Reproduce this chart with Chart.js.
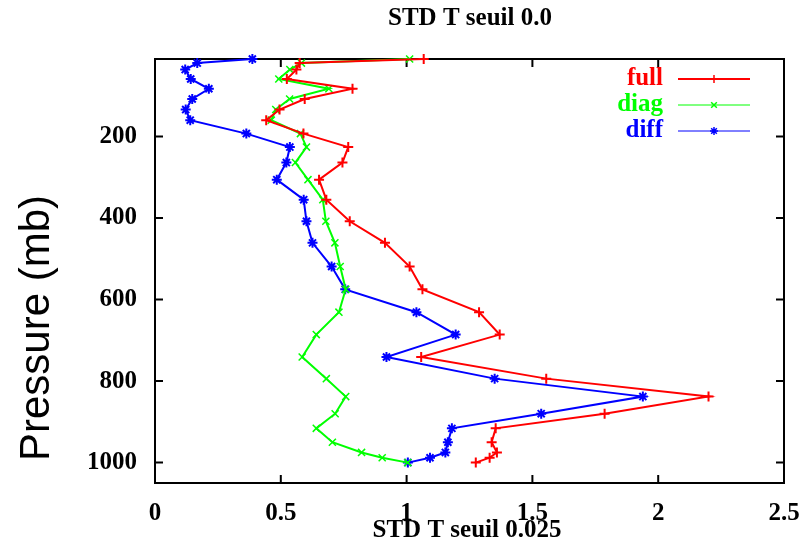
<!DOCTYPE html>
<html>
<head>
<meta charset="utf-8">
<script src="https://cdn.jsdelivr.net/npm/chart.js@4/dist/chart.umd.min.js"></script>
<style>
    html, body { margin: 0; padding: 0; background: #fff; }
    #wrap { width: 803px; height: 547px; }
</style>
</head>
<body>
<div id="wrap"><canvas id="stdChart"></canvas></div>
<script>
// pressure levels (mb), shared by all three profiles
const levels = [10, 20, 36, 59, 83, 108, 134, 160, 193, 226, 264, 306, 355, 408, 461,
                519, 575, 631, 686, 741, 794, 838, 880, 916, 950, 975, 988, 1000];

const fullStd = [1.068, 0.575, 0.562, 0.524, 0.785, 0.595, 0.495, 0.442, 0.59, 0.768,
                 0.745, 0.652, 0.681, 0.774, 0.914, 1.012, 1.063, 1.288, 1.370, 1.058,
                 1.555, 2.200, 1.787, 1.354, 1.338, 1.359, 1.330, 1.275];
const diagStd = [1.012, 0.582, 0.536, 0.492, 0.691, 0.535, 0.480, 0.462, 0.578, 0.602,
                 0.558, 0.608, 0.667, 0.679, 0.715, 0.736, 0.758, 0.731, 0.641, 0.585,
                 0.681, 0.758, 0.716, 0.641, 0.705, 0.821, 0.903, 1.005];
const diffStd = [0.387, 0.168, 0.120, 0.142, 0.214, 0.148, 0.122, 0.140, 0.363, 0.536,
                 0.522, 0.484, 0.591, 0.602, 0.626, 0.702, 0.756, 1.039, 1.195, 0.920,
                 1.350, 1.939, 1.535, 1.180, 1.164, 1.154, 1.093, 1.005];

const seriesNames = ['full', 'diag', 'diff'];
const yTicks = [200, 400, 600, 800, 1000];
const xTicks = [0, 0.5, 1, 1.5, 2, 2.5];

const serif = '"Liberation Serif", "Times New Roman", serif';

function toPoints(vals) {
    return vals.map((v, i) => ({ x: v, y: levels[i] }));
}

const colors = ['#ff0000', '#00ff00', '#0000ff'];
const styles = ['cross', 'crossRot', 'star'];

const datasets = [fullStd, diagStd, diffStd].map((vals, i) => ({
    label: seriesNames[i],
    data: toPoints(vals),
    showLine: true,
    borderColor: colors[i],
    backgroundColor: colors[i],
    borderWidth: 2,
    pointStyle: styles[i],
    pointRadius: 5,
    pointBorderWidth: i === 1 ? 1.5 : 2,
    pointBorderColor: colors[i],
    tension: 0,
    clip: false
}));

// frame, mirrored inward ticks, titles and the gnuplot style key
const decor = {
    id: 'decor',
    beforeDatasetsDraw(chart) {
        const { ctx, chartArea: a, scales: { x, y } } = chart;
        ctx.save();
        ctx.strokeStyle = '#000';
        ctx.lineWidth = 2;
        ctx.strokeRect(a.left, a.top, a.right - a.left, a.bottom - a.top);
        ctx.beginPath();
        xTicks.forEach(v => {
            const px = x.getPixelForValue(v);
            ctx.moveTo(px, a.bottom); ctx.lineTo(px, a.bottom - 8);
            ctx.moveTo(px, a.top); ctx.lineTo(px, a.top + 8);
        });
        yTicks.forEach(v => {
            const py = y.getPixelForValue(v);
            ctx.moveTo(a.left, py); ctx.lineTo(a.left + 8, py);
            ctx.moveTo(a.right, py); ctx.lineTo(a.right - 8, py);
        });
        ctx.stroke();
        ctx.restore();
    },
    afterDraw(chart) {
        const { ctx } = chart;
        ctx.save();
        ctx.fillStyle = '#000';
        ctx.textAlign = 'center';
        ctx.textBaseline = 'middle';
        ctx.font = 'bold 25px ' + serif;
        ctx.fillText('STD T seuil 0.0', 470, 19);
        ctx.fillText('STD T seuil 0.025', 467, 531);

        ctx.save();
        ctx.translate(37, 328);
        ctx.rotate(-Math.PI / 2);
        ctx.font = '42px "Liberation Sans", Arial, sans-serif';
        ctx.fillText('Pressure (mb)', 0, 0);
        ctx.restore();

        // key
        const keyY = [79, 105, 131];
        seriesNames.forEach((name, i) => {
            ctx.fillStyle = colors[i];
            ctx.textAlign = 'right';
            ctx.font = 'bold 25px ' + serif;
            ctx.fillText(name, 663, keyY[i]);
            ctx.strokeStyle = colors[i];
            ctx.lineWidth = i === 0 ? 2 : 1;
            ctx.beginPath();
            ctx.moveTo(678, keyY[i]);
            ctx.lineTo(750, keyY[i]);
            ctx.stroke();
            ctx.lineWidth = 1.5;
            Chart.helpers.drawPoint(ctx, {
                pointStyle: styles[i], radius: 4, borderWidth: 1.5, rotation: 0
            }, 714, keyY[i]);
        });
        ctx.restore();
    }
};

new Chart(document.getElementById('stdChart'), {
    type: 'scatter',
    data: { datasets },
    options: {
        responsive: true,
        maintainAspectRatio: false,
        animation: false,
        layout: { padding: { top: 59, right: 19, left: 0, bottom: 0 } },
        plugins: {
            legend: { display: false },
            tooltip: { enabled: false }
        },
        scales: {
            x: {
                type: 'linear',
                min: 0,
                max: 2.5,
                grid: { display: false, drawTicks: false },
                border: { display: false },
                afterBuildTicks: s => { s.ticks = xTicks.map(v => ({ value: v })); },
                afterFit: s => { s.height = 64; s.paddingLeft = 0; s.paddingRight = 0; },
                ticks: {
                    padding: 16,
                    color: '#000',
                    font: { family: serif, size: 25, weight: 'bold' },
                    callback: v => String(v)
                }
            },
            y: {
                type: 'linear',
                reverse: true,
                min: 10,
                max: 1050,
                grid: { display: false, drawTicks: false },
                border: { display: false },
                afterBuildTicks: s => { s.ticks = yTicks.map(v => ({ value: v })); },
                afterFit: s => { s.width = 155; s.paddingTop = 0; s.paddingBottom = 0; },
                ticks: {
                    padding: 18,
                    color: '#000',
                    font: { family: serif, size: 25, weight: 'bold' },
                    callback: v => String(v)
                }
            }
        }
    },
    plugins: [decor]
});
</script>
</body>
</html>
